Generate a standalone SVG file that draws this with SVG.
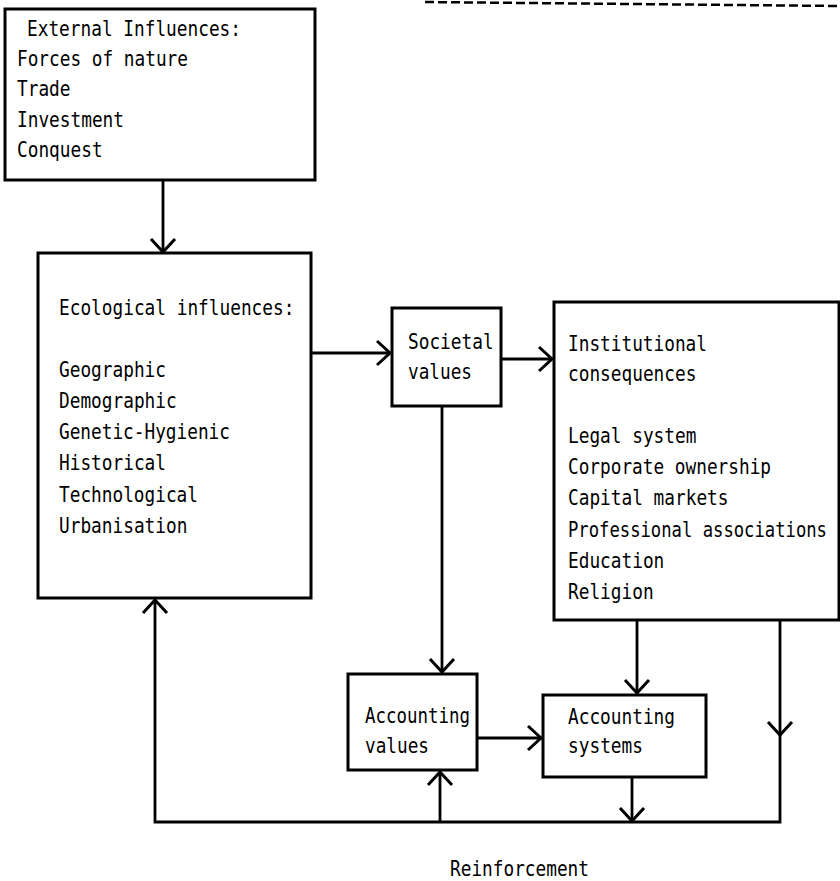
<svg xmlns="http://www.w3.org/2000/svg" width="840" height="881" viewBox="0 0 840 881">
<style>
.box{fill:#fff;stroke:#000;stroke-width:3}
.t{font-family:"DejaVu Sans Mono","Liberation Mono",monospace;font-size:21px;fill:#000}
.c{fill:none;stroke:#000;stroke-width:2.8}
</style>
<defs>
<marker id="ah" viewBox="-16 -15 20 30" markerWidth="20" markerHeight="30" refX="0" refY="0" orient="auto" markerUnits="userSpaceOnUse">
<path d="M-13,-12 L0,0 L-13,12" fill="none" stroke="#000" stroke-width="3"/>
</marker>
</defs>
<rect width="840" height="881" fill="#fff"/>
<line x1="425" y1="2" x2="840" y2="6" stroke="#000" stroke-width="2.5" stroke-dasharray="9 4"/>
<g id="external">
<rect class="box" x="5" y="9" width="310" height="171"/>
<text class="t" x="27" y="36" textLength="214" lengthAdjust="spacingAndGlyphs">External Influences:</text>
<text class="t" x="17" y="66" textLength="171" lengthAdjust="spacingAndGlyphs">Forces of nature</text>
<text class="t" x="17" y="96" textLength="53.5" lengthAdjust="spacingAndGlyphs">Trade</text>
<text class="t" x="17" y="127" textLength="107" lengthAdjust="spacingAndGlyphs">Investment</text>
<text class="t" x="17" y="157" textLength="85.6" lengthAdjust="spacingAndGlyphs">Conquest</text>
</g>
<g id="ecological">
<rect class="box" x="38" y="253" width="273" height="345"/>
<text class="t" x="59" y="315" textLength="235.4" lengthAdjust="spacingAndGlyphs">Ecological influences:</text>
<text class="t" x="59" y="377" textLength="107" lengthAdjust="spacingAndGlyphs">Geographic</text>
<text class="t" x="59" y="408" textLength="117.7" lengthAdjust="spacingAndGlyphs">Demographic</text>
<text class="t" x="59" y="439" textLength="171" lengthAdjust="spacingAndGlyphs">Genetic-Hygienic</text>
<text class="t" x="59" y="470" textLength="107" lengthAdjust="spacingAndGlyphs">Historical</text>
<text class="t" x="59" y="502" textLength="139" lengthAdjust="spacingAndGlyphs">Technological</text>
<text class="t" x="59" y="533" textLength="128.4" lengthAdjust="spacingAndGlyphs">Urbanisation</text>
</g>
<g id="societal">
<rect class="box" x="392" y="308" width="109" height="98"/>
<text class="t" x="408" y="349" textLength="85.6" lengthAdjust="spacingAndGlyphs">Societal</text>
<text class="t" x="408" y="379" textLength="64" lengthAdjust="spacingAndGlyphs">values</text>
</g>
<g id="institutional">
<rect class="box" x="554" y="302" width="285" height="318"/>
<text class="t" x="568" y="351" textLength="139" lengthAdjust="spacingAndGlyphs">Institutional</text>
<text class="t" x="568" y="381" textLength="128.4" lengthAdjust="spacingAndGlyphs">consequences</text>
<text class="t" x="568" y="443" textLength="128.4" lengthAdjust="spacingAndGlyphs">Legal system</text>
<text class="t" x="568" y="474" textLength="203" lengthAdjust="spacingAndGlyphs">Corporate ownership</text>
<text class="t" x="568" y="505" textLength="160.5" lengthAdjust="spacingAndGlyphs">Capital markets</text>
<text class="t" transform="translate(568,537) scale(0.82,1)">Professional associations</text>
<text class="t" x="568" y="568" textLength="96.3" lengthAdjust="spacingAndGlyphs">Education</text>
<text class="t" x="568" y="599" textLength="85.6" lengthAdjust="spacingAndGlyphs">Religion</text>
</g>
<g id="accounting-values">
<rect class="box" x="348" y="674" width="129" height="96"/>
<text class="t" x="365" y="723" textLength="105" lengthAdjust="spacingAndGlyphs">Accounting</text>
<text class="t" x="365" y="753" textLength="64" lengthAdjust="spacingAndGlyphs">values</text>
</g>
<g id="accounting-systems">
<rect class="box" x="543" y="695" width="163" height="82"/>
<text class="t" x="568" y="724" textLength="107" lengthAdjust="spacingAndGlyphs">Accounting</text>
<text class="t" x="568" y="753" textLength="75" lengthAdjust="spacingAndGlyphs">systems</text>
</g>
<g id="connectors">
<path class="c" d="M163,180 V252" marker-end="url(#ah)"/>
<path class="c" d="M311,353 H390" marker-end="url(#ah)"/>
<path class="c" d="M501,359 H552" marker-end="url(#ah)"/>
<path class="c" d="M442,406 V672" marker-end="url(#ah)"/>
<path class="c" d="M477,738 H541" marker-end="url(#ah)"/>
<path class="c" d="M637,620 V693" marker-end="url(#ah)"/>
<path class="c" d="M780,620 V735" marker-end="url(#ah)"/>
<path class="c" d="M780,735 V822 H155 V600" marker-end="url(#ah)"/>
<path class="c" d="M632,777 V821" marker-end="url(#ah)"/>
<path class="c" d="M440,822 V772" marker-end="url(#ah)"/>
</g>
<text class="t" x="450" y="876" textLength="139" lengthAdjust="spacingAndGlyphs">Reinforcement</text>
</svg>
